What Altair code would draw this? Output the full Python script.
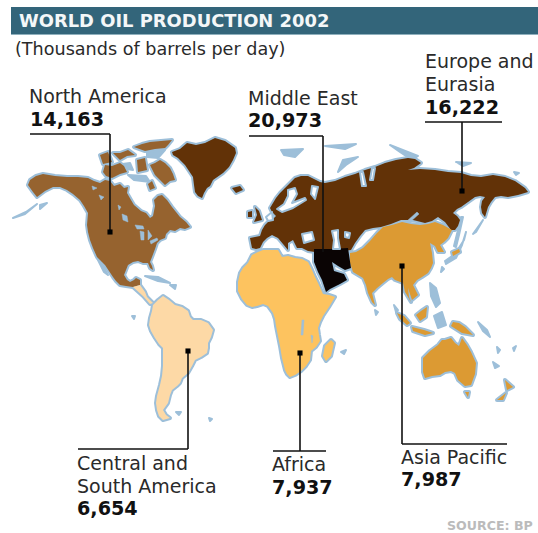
import altair as alt

WIDTH, HEIGHT = 538, 533

# Region totals and label lines
titles = ["WORLD OIL PRODUCTION 2002"]
regions = ["North America", "Central and South America", "Europe and Eurasia",
           "Middle East", "Africa", "Asia Pacific"]
region_colors = ["#96632f", "#fdd9a6", "#623207", "#0a0404", "#fdc35f", "#dc9a33"]
COAST = "#9dbfd9"

# Map outlines, in map units
north_america = [(30,180),(36,176),(43,174),(55,176),(67,177),(78,177),(88,178),(94,181),(100,183),(105,180),(110,181),
    (114,186),(120,184),(124,188),(128,187),(127,193),(131,200),(134,205),(141,211),(146,213),(150,218),(153,216),
    (155,206),(154,200),(158,196),(162,195),(167,200),(172,207),(176,212),(180,217),(186,222),(190,227),(185,229),(180,228),
    (175,231),(170,230),(166,234),(165,238),(160,240),(157,243),(155,249),(152,257),(150,262),(152,266),(153,270),(150,268),(148,263),(143,263),
    (138,261),(133,262),(128,265),(126,270),(124,275),(127,280),(130,282),(134,280),(136,278),(140,280),(140,285),(133,287),(126,286),(120,285),
    (116,281),(113,277),(109,271),(105,265),(100,260),(97,257),(93,248),(90,240),(88,232),(87,225),(88,213),
    (84,206),(80,200),(73,194),(67,190),(60,187),(53,187),(45,191),(37,197),(33,192),(28,185)]
greenland = [(172,152),(180,149),(187,143),(196,145),(205,143),(215,138),(225,141),(235,148),(236,153),(233,160),(229,167),(223,173),(213,180),(210,186),(207,188),
    (204,193),(202,198),(198,196),(195,192),(194,185),(193,177),(189,171),(185,165),(178,158),(173,155)]
iceland = [(232,188),(240,186),(243,190),(236,193)]
arctic_isles = [
    [(134,147),(142,144),(150,142),(161,141),(172,140),(168,145),(165,148),(155,149),(145,151)],
    [(150,165),(155,163),(160,160),(165,163),(170,168),(173,174),(175,180),(170,181),(165,185),(160,180),(155,175)],
    [(105,165),(112,166),(120,163),(124,166),(127,172),(120,174),(112,178),(106,176),(103,172)],
    [(100,155),(108,152),(112,162),(103,164)],
    [(113,153),(120,153),(128,150),(135,155),(127,156),(120,160)],
    [(137,160),(145,158),(147,170),(138,172)],
    [(148,184),(152,181),(155,188),(150,190)],
]
central_america = [(133,287),(140,285),(145,292),(147,297),(153,303),(150,304),(143,296)]
south_america = [(153,305),(158,300),(163,296),(169,300),(175,305),(182,307),(188,311),(190,317),(193,320),(201,320),(208,323),(213,330),(211,337),(208,343),(208,348),(207,353),
    (201,357),(195,360),(192,366),(188,373),(182,378),(180,383),(177,386),(172,390),(170,395),(168,403),(163,410),(166,415),(170,418),(163,420),(159,416),(157,410),
    (156,403),(157,396),(160,385),(162,376),(163,366),(163,356),(163,348),(159,344),(155,338),(151,331),(149,325),(150,318),(152,311)]
africa = [(248,263),(252,255),(258,252),(263,250),(270,250),(278,250),(282,257),(288,256),(295,258),(302,259),(308,262),(312,270),(315,277),(318,283),
    (323,294),(329,295),(335,297),(329,307),(323,316),(320,322),(318,328),(319,335),(320,341),(316,347),(311,351),(310,360),(306,366),(301,371),(295,375),(290,377),(287,374),(285,370),
    (282,358),(280,346),(278,336),(276,326),(275,319),(273,313),(268,306),(263,304),(257,306),(252,307),(247,305),(242,299),(238,291),(238,282),(240,273),(243,268)]
madagascar = [(331,340),(334,343),(331,356),(326,361),(323,356),(325,346)]
eurasia = [(250,238),(255,237),(260,236),(261,233),(262,230),(265,225),(268,222),(272,220),(276,216),(272,212),(270,208),(273,203),(276,198),(280,193),(285,188),(290,183),(295,178),
    (301,176),(308,176),(314,179),(320,182),(325,183),(335,181),(345,177),(355,174),(365,170),(375,167),(385,163),(396,160),(408,158),(415,159),(421,163),(414,168),(408,170),(420,169),(435,170),(448,172),
    (461,173),(471,176),(481,177),(493,175),(505,177),(515,181),(525,188),(528,192),(518,195),(508,197),(501,196),(495,197),(491,202),(488,207),(485,217),(482,213),(481,207),(482,201),
    (485,197),(480,196),(475,197),(468,202),(461,207),(457,209),(453,213),(457,216),(460,220),(458,226),(455,230),(451,230),(445,222),(438,217),(432,221),(425,223),(413,220),(401,220),
    (391,224),(381,227),(373,228),(365,230),(360,236),(355,243),(351,250),(333,252),(315,252),(308,251),(302,248),(297,248),(293,240),(288,243),(288,250),(283,244),
    (278,238),(272,235),(267,238),(263,242),(260,248),(256,249),(252,248)]
britain = [(255,207),(259,211),(262,220),(254,222),(257,215)]
ireland = [(248,212),(252,211),(252,217),(248,217)]
middle_east = [(314,249),(330,249),(348,248),(351,268),(345,270),(338,266),(332,262),(334,271),(344,274),
    (347,280),(340,284),(330,289),(326,292),(324,286),(322,280),(318,272),(314,262)]
asia = [(350,253),(356,252),(363,248),(370,241),(377,233),(383,227),(392,225),(402,222),(411,224),(420,225),(428,224),(435,222),(443,225),(452,230),
    (450,234),(448,238),(444,242),(440,245),(444,252),(438,252),(435,246),(430,243),(432,253),(433,263),(431,268),(428,273),(422,277),(417,280),(413,285),(418,295),(412,300),
    (408,288),(409,297),(411,302),(405,292),(403,283),(395,280),(392,277),(388,279),(383,283),(377,288),(372,293),(375,305),(372,302),(368,293),(366,285),(363,278),(358,275),(353,272),(350,263)]
australia = [(423,358),(430,351),(438,345),(442,340),(445,340),(451,338),(455,343),(459,346),(462,338),(467,345),(471,352),(476,363),(475,374),(471,385),(465,386),(458,380),
    (455,373),(451,371),(445,372),(440,375),(432,376),(425,378),(423,372),(423,366)]
sumatra = [(397,313),(404,316),(410,323),(407,325),(400,319)]
borneo = [(416,315),(421,311),(427,307),(426,317),(420,321)]
java = [(412,327),(424,330),(433,333),(425,335),(413,331)]
new_guinea = [(453,322),(459,323),(465,327),(473,335),(462,333),(451,326)]
honshu = [(452,252),(459,249),(460,252),(453,256)]
tasmania = [(465,392),(469,392),(468,397)]
new_zealand = [[(505,380),(513,387),(507,390)], [(497,400),(506,393),(503,400)]]

# Enclosed seas and lakes cut back out of the land
seas = [
    [(288,190),(295,188),(297,194),(292,203),(305,198),(306,200),(293,208),(282,212),(277,209),(284,204),(288,196)],
    [(302,234),(312,232),(314,240),(304,243)],
    [(332,231),(338,230),(338,238),(340,249),(333,249),(334,240)],
    [(345,232),(350,233),(349,238),(345,237)],
    [(312,186),(318,187),(315,199),(311,194)],
    [(360,172),(363,172),(366,186),(362,186)],
    [(372,168),(375,168),(373,180),(370,180)],
    [(266,217),(272,212),(273,220),(268,221)],
]
lakes = [
    [(135,225),(143,226),(144,229),(137,229)], [(140,231),(144,232),(144,240),(141,240)],
    [(148,230),(152,236),(148,240)], [(150,241),(157,238),(158,240),(151,244)],
    [(122,214),(127,216),(128,222),(123,220)], [(118,205),(121,207),(119,210)],
    [(99,195),(104,197),(101,200)], [(92,186),(97,188),(93,190)],
    [(417,212),(419,214),(409,223),(407,221)],
    [(302,320),(304,320),(303,335),(301,335)], [(311,335),(313,336),(312,343)],
]
islets = [
    [(145,276),(158,277),(170,283),(158,281)], [(170,285),(176,285),(175,289)],
    [(132,316),(135,316),(134,319)], [(176,412),(181,412),(179,415)], [(209,418),(212,419),(210,421)],
    [(40,205),(47,203),(40,209)], [(13,218),(25,214),(37,204),(26,212)],
    [(97,258),(100,260),(108,275),(104,272)],
    [(281,150),(303,149),(295,157),(284,155)], [(325,146),(356,144),(345,149)],
    [(338,172),(343,160),(358,157),(346,165)], [(390,145),(418,156),(412,160),(400,152)],
    [(456,162),(471,163),(463,166)], [(514,172),(519,173),(516,175)],
    [(461,217),(463,217),(459,235),(456,247),(454,246),(458,230)],
    [(445,261),(455,254),(464,240),(466,232),(462,245),(456,258),(446,264)], [(473,234),(483,220),(476,232)],
    [(430,283),(436,288),(440,303),(436,307),(431,296)], [(442,267),(444,269),(441,272)],
    [(434,316),(442,312),(446,325),(438,328)], [(478,322),(487,330),(490,337),(483,331)],
    [(497,347),(500,350),(498,353)], [(493,362),(499,366),(495,368)], [(513,348),(516,346),(514,351)],
    [(341,352),(346,350),(344,354)],
    [(375,310),(378,312),(376,315)], [(394,305),(398,310),(396,312)],
    [(115,165),(130,163),(133,170),(120,168)], [(128,175),(146,176),(150,182),(134,180)],
    [(147,152),(165,150),(158,158),(147,157)],
]

def feature(ring, kind):
    closed = [list(p) for p in ring] + [list(ring[0])]
    return {"type": "Feature", "properties": {"kind": kind},
            "geometry": {"type": "Polygon", "coordinates": [closed]}}

land = (
    [(north_america, regions[0]), (greenland, regions[2]), (iceland, regions[2])]
    + [(r, regions[0]) for r in arctic_isles]
    + [(central_america, regions[1]), (south_america, regions[1])]
    + [(eurasia, regions[2]), (britain, regions[2]), (ireland, regions[2])]
    + [(africa, regions[4]), (madagascar, regions[4])]
    + [(asia, regions[5]), (sumatra, regions[5]), (borneo, regions[5]), (java, regions[5]),
       (new_guinea, regions[5]), (honshu, regions[5]), (australia, regions[5]), (tasmania, regions[5])]
    + [(r, regions[5]) for r in new_zealand]
    + [(middle_east, regions[3])]
)

page = [(0, 0), (WIDTH, 0), (WIDTH, HEIGHT), (0, HEIGHT)]
features = [feature(page, "page")]
features += [feature(r, "coast") for r, _ in land]
features += [feature(r, "islet") for r in islets]
features += [feature(r, k) for r, k in land]
features += [feature(r, "sea") for r in seas]
features += [feature(r, "lake") for r in lakes]

kinds = ["page", "coast", "islet", "sea", "lake"] + regions
fills = ["#ffffff", COAST, COAST, "#ffffff", COAST] + region_colors
strokes = ["#ffffff", COAST, COAST, COAST, COAST] + region_colors
stroke_widths = [0, 4, 2, 2, 0.5] + [0] * 6

world = alt.Chart(alt.Data(values=features)).mark_geoshape(strokeJoin="round").encode(
    fill=alt.Fill("properties.kind:N", scale=alt.Scale(domain=kinds, range=fills), legend=None),
    stroke=alt.Stroke("properties.kind:N", scale=alt.Scale(domain=kinds, range=strokes), legend=None),
    strokeWidth=alt.StrokeWidth("properties.kind:N", scale=alt.Scale(type="ordinal", domain=kinds, range=stroke_widths), legend=None),
).project(type="identity")

x_scale = alt.Scale(domain=[0, WIDTH], range=[0, WIDTH])
y_scale = alt.Scale(domain=[0, HEIGHT], range=[0, HEIGHT])
X = lambda f: alt.X(f, type="quantitative", scale=x_scale, axis=None)
Y = lambda f: alt.Y(f, type="quantitative", scale=y_scale, axis=None)

# Heading band with its pale lower edge
band = alt.Chart(alt.Data(values=[
    {"x": 11, "x2": WIDTH, "y": 7, "y2": 35, "c": "edge"},
    {"x": 11, "x2": WIDTH, "y": 7, "y2": 34, "c": "band"},
])).mark_rect().encode(
    x=X("x"), x2="x2", y=Y("y"), y2="y2",
    color=alt.Color("c:N", scale=alt.Scale(domain=["edge", "band"], range=["#8fb0bd", "#33657a"]), legend=None),
)

# Leader lines: each segment runs between two map positions
leaders = [
    {"x": 30, "x2": 110, "y": 134, "y2": 134}, {"x": 110, "x2": 110, "y": 134, "y2": 232},
    {"x": 249, "x2": 323, "y": 136, "y2": 136}, {"x": 323, "x2": 323, "y": 136, "y2": 252},
    {"x": 425, "x2": 502, "y": 122, "y2": 122}, {"x": 462, "x2": 462, "y": 122, "y2": 191},
    {"x": 78, "x2": 188, "y": 449, "y2": 449}, {"x": 188, "x2": 188, "y": 449, "y2": 351},
    {"x": 273, "x2": 326, "y": 451, "y2": 451}, {"x": 300, "x2": 300, "y": 451, "y2": 353},
    {"x": 402, "x2": 507, "y": 444, "y2": 444}, {"x": 402, "x2": 402, "y": 444, "y2": 266},
]
lines = alt.Chart(alt.Data(values=leaders)).mark_rule(color="#111111", strokeWidth=1.6).encode(
    x=X("x"), x2="x2", y=Y("y"), y2="y2")

dots = [{"x": 110, "y": 232}, {"x": 462, "y": 191}, {"x": 188, "y": 351}, {"x": 300, "y": 353}, {"x": 402, "y": 266}]
markers = alt.Chart(alt.Data(values=dots)).mark_square(color="#000000", size=26, opacity=1).encode(
    x=X("x"), y=Y("y"))

# Text, one row per line
plain = [
    ("North America", 29, 103), ("Middle East", 248, 105),
    ("Europe and", 425, 68), ("Eurasia", 425, 91), ("Central and", 77, 470), ("South America", 77, 493),
    ("Africa", 272, 471), ("Asia Pacific", 401, 464),
]
bold = [
    ("14,163", 30, 126), ("20,973", 248, 127), ("16,222", 425, 114), ("6,654", 77, 515),
    ("7,937", 272, 494), ("7,987", 401, 486),
]
FONT = "DejaVu Sans"

def text_layer(rows, **style):
    data = [{"t": t, "x": x, "y": y} for t, x, y in rows]
    return alt.Chart(alt.Data(values=data)).mark_text(align="left", baseline="alphabetic", font=FONT, **style).encode(
        x=X("x"), y=Y("y"), text="t:N")

heading = text_layer([(titles[0], 19, 27)], fontSize=17.9, fontWeight="bold", color="#f4f7f8")
subtitle = text_layer([("(Thousands of barrels per day)", 15, 55)], fontSize=17.6, color="#2a2a2a")
labels = text_layer(plain, fontSize=19, color="#2a2a2a")
values = text_layer(bold, fontSize=19.2, fontWeight="bold", color="#111111")
source = text_layer([("SOURCE: BP", 447, 530)], fontSize=12.6, fontWeight="bold", color="#bbbbbb")

chart = alt.layer(world, band, lines, markers, heading, subtitle, labels, values, source).resolve_scale(
    x="shared", y="shared", color="independent"
).properties(
    width=WIDTH, height=HEIGHT, padding=0, autosize=alt.AutoSizeParams(type="none"), background="#ffffff"
).configure_view(stroke=None)

chart.save("out.html", embed_options={"renderer": "svg", "actions": False})
